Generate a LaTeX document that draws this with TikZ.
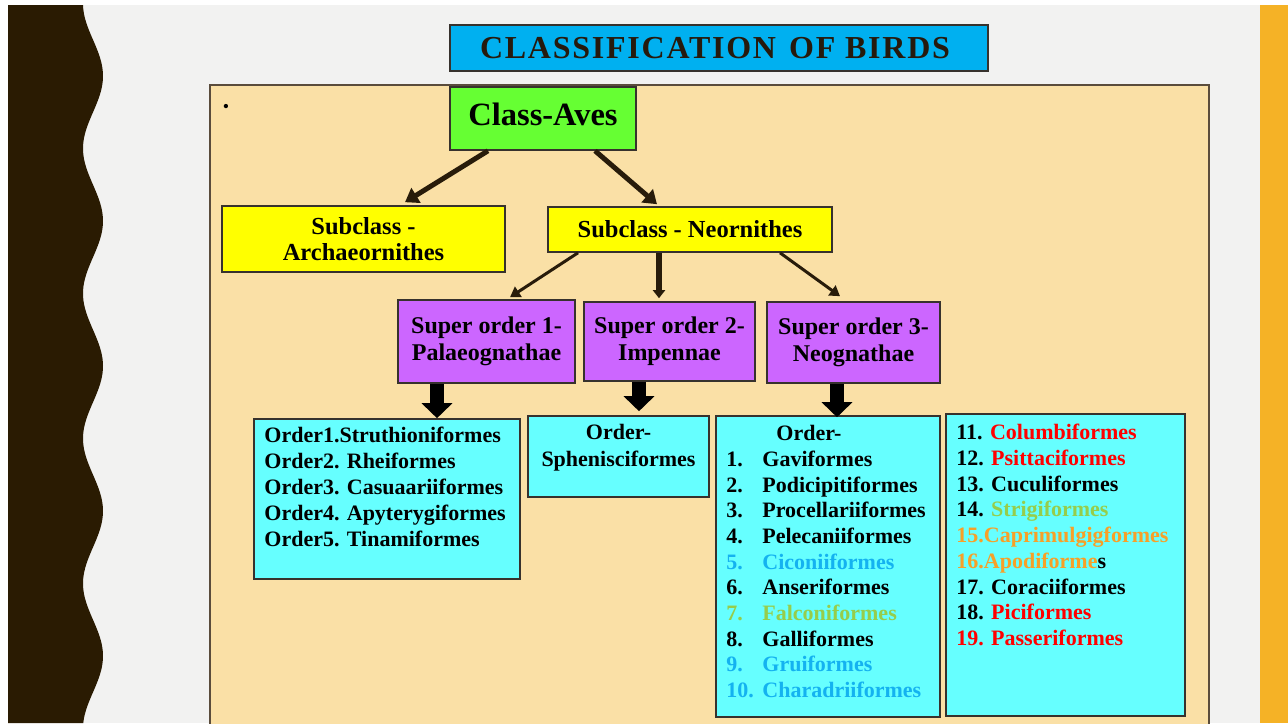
\documentclass[tikz,border=0pt]{standalone}
\usepackage{fontspec}
\setmainfont{Liberation Serif}
\newfontfamily\titlefont[LetterSpace=5.5]{Liberation Serif}
\usetikzlibrary{arrows.meta}
\definecolor{stripdark}{RGB}{42,27,2}
\definecolor{slidebg}{RGB}{242,242,241}
\definecolor{stripor}{RGB}{245,178,38}
\definecolor{beige}{RGB}{250,224,166}
\definecolor{panelline}{RGB}{90,76,60}
\definecolor{boxline}{RGB}{55,50,45}
\definecolor{titlefill}{RGB}{0,176,240}
\definecolor{titletext}{RGB}{38,26,13}
\definecolor{avesfill}{RGB}{102,255,51}
\definecolor{subfill}{RGB}{255,255,0}
\definecolor{supfill}{RGB}{204,102,255}
\definecolor{ordfill}{RGB}{102,255,255}
\definecolor{arrbrown}{RGB}{40,28,10}
\definecolor{lblue}{RGB}{20,178,240}
\definecolor{lgreen}{RGB}{150,205,75}
\definecolor{lorange}{RGB}{247,160,40}
\definecolor{lred}{RGB}{255,0,0}
\begin{document}
\begin{tikzpicture}[x=1pt,y=-1pt,
  box/.style={draw=boxline, line width=1.6pt, inner sep=0pt, font=\bfseries},
  thickarr/.style={draw=arrbrown, line width=5pt, -{Triangle[width=17pt,length=13pt]}},
  thinarr/.style={draw=arrbrown, line width=3pt, -{Triangle[width=12pt,length=10pt]}},
  midarr/.style={draw=arrbrown, line width=6pt, -{Triangle[width=12pt,length=8pt]}},
  blockarr/.style={draw=black, line width=14pt, -{Triangle[width=30pt,length=15pt]}},
  listtext/.style={inner sep=0pt, align=left, font=\fontsize{22}{25.7}\selectfont\bfseries},
]
\useasboundingbox (0,0) rectangle (1288,723);
\clip (0,0) rectangle (1288,723);
% background
\fill[white] (0,0) rectangle (1288,723);
\fill[slidebg] (8,5) rectangle (1288,723);
\fill[stripdark] (8,5) -- plot[domain=5:723,samples=200] ({93+10*cos((\x-76)*2.48276)},\x) -- (8,723) -- cycle;
\fill[stripor] (1260,5) rectangle (1288,723);
% panel
\fill[beige] (210,85) rectangle (1209,740);
\draw[panelline, line width=2pt] (210,740) -- (210,85) -- (1209,85) -- (1209,740);
\node[inner sep=0pt, font=\fontsize{18}{18}\selectfont] (dot) at (226,108) {•};
% title
\node[box, fill=titlefill, minimum width=538pt, minimum height=46pt, text=titletext,
      font=\titlefont\bfseries\fontsize{32}{32}\selectfont] (title) at (719,48) {CLASSIFICATION\hspace{13pt}OF BIRDS\hspace*{8pt}};
% hierarchy
\node[box, fill=avesfill, minimum width=186pt, minimum height=63pt, font=\bfseries\fontsize{32.5}{32.5}\selectfont] (aves) at (543,118.5) {\raisebox{9pt}{Class-Aves}};
\node[box, fill=subfill, minimum width=283pt, minimum height=66pt, align=center, font=\bfseries\fontsize{24.5}{26}\selectfont] (arch) at (363.5,239) {Subclass -\\Archaeornithes};
\node[box, fill=subfill, minimum width=284pt, minimum height=45pt, font=\bfseries\fontsize{24.5}{26}\selectfont] (neo) at (690,229.5) {\raisebox{1pt}{Subclass - Neornithes}};
\node[box, fill=supfill, minimum width=177pt, minimum height=83pt, font=\bfseries\fontsize{24}{27}\selectfont] (so1) at (486.5,341.5) {\raisebox{3pt}{\begin{tabular}{@{}c@{}}Super order 1-\\Palaeognathae\end{tabular}}};
\node[box, fill=supfill, minimum width=171pt, minimum height=79pt, font=\bfseries\fontsize{24}{27}\selectfont] (so2) at (669.5,341.5) {\raisebox{3pt}{\begin{tabular}{@{}c@{}}Super order 2-\\Impennae\end{tabular}}};
\node[box, fill=supfill, minimum width=173pt, minimum height=81pt, font=\bfseries\fontsize{24}{27}\selectfont] (so3) at (853.5,342.5) {\raisebox{3pt}{\begin{tabular}{@{}c@{}}Super order 3-\\Neognathae\end{tabular}}};
% order boxes
\node[box, fill=ordfill, minimum width=266pt, minimum height=160pt] (o1) at (387,499) {};
\node[box, fill=ordfill, minimum width=181pt, minimum height=81pt] (o2) at (618.5,456.5) {};
\node[box, fill=ordfill, minimum width=224pt, minimum height=301pt] (o3) at (828,566.5) {};
\node[box, fill=ordfill, minimum width=239pt, minimum height=302pt] (o4) at (1065.5,565) {};
\node[listtext, anchor=north west, font=\fontsize{22}{26}\selectfont\bfseries] (o1t) at ([xshift=11pt,yshift=-9pt]o1.north west)
  {Order1.Struthioniformes\\Order2. Rheiformes\\Order3. Casuaariiformes\\Order4. Apyterygiformes\\Order5. Tinamiformes};
\node[listtext, align=center, anchor=north, font=\fontsize{22}{27}\selectfont\bfseries] (o2t) at ([yshift=-9pt]o2.north)
  {Order-\\Sphenisciformes};
\node[listtext, anchor=north west] (o3t) at ([xshift=11pt,yshift=-10pt]o3.north west)
  {\hspace*{50pt}Order-\\
   \makebox[36pt][l]{1.}Gaviformes\\
   \makebox[36pt][l]{2.}Podicipitiformes\\
   \makebox[36pt][l]{3.}Procellariiformes\\
   \makebox[36pt][l]{4.}Pelecaniiformes\\
   \textcolor{lblue}{\makebox[36pt][l]{5.}Ciconiiformes}\\
   \makebox[36pt][l]{6.}Anseriformes\\
   \textcolor{lgreen}{\makebox[36pt][l]{7.}Falconiformes}\\
   \makebox[36pt][l]{8.}Galliformes\\
   \textcolor{lblue}{\makebox[36pt][l]{9.}Gruiformes}\\
   \textcolor{lblue}{\makebox[36pt][l]{10.}Charadriiformes}};
\node[listtext, anchor=north west] (o4t) at ([xshift=11pt,yshift=-11pt]o4.north west)
  {11. \textcolor{lred}{Columbiformes}\\
   12. \textcolor{lred}{Psittaciformes}\\
   13. Cuculiformes\\
   14. \textcolor{lgreen}{Strigiformes}\\
   \textcolor{lorange}{15.Caprimulgigformes}\\
   \textcolor{lorange}{16.Apodiforme}s\\
   17. Coraciiformes\\
   18. \textcolor{lred}{Piciformes}\\
   \textcolor{lred}{19. Passeriformes}};
% connectors
\draw[thickarr] ([xshift=-55pt]aves.south) -- ([xshift=41.5pt,yshift=3pt]arch.north);
\draw[thickarr] ([xshift=52pt]aves.south) -- ([xshift=-33pt,yshift=2pt]neo.north);
\draw[thinarr] ([xshift=-112pt]neo.south) -- ([xshift=23.5pt,yshift=2pt]so1.north);
\draw[midarr] ([xshift=-31pt]neo.south) -- ([xshift=-10.5pt,yshift=3pt]so2.north);
\draw[thinarr] ([xshift=90pt]neo.south) -- ([xshift=-13.5pt,yshift=5pt]so3.north);
\draw[blockarr] ([xshift=-49.5pt]so1.south) -- ([xshift=50pt]o1.north);
\draw[blockarr] ([xshift=-30.5pt]so2.south) -- ([xshift=20.5pt,yshift=4pt]o2.north);
\draw[blockarr] ([xshift=-16.5pt]so3.south) -- ([xshift=9pt,yshift=-2pt]o3.north);
\end{tikzpicture}
\end{document}
